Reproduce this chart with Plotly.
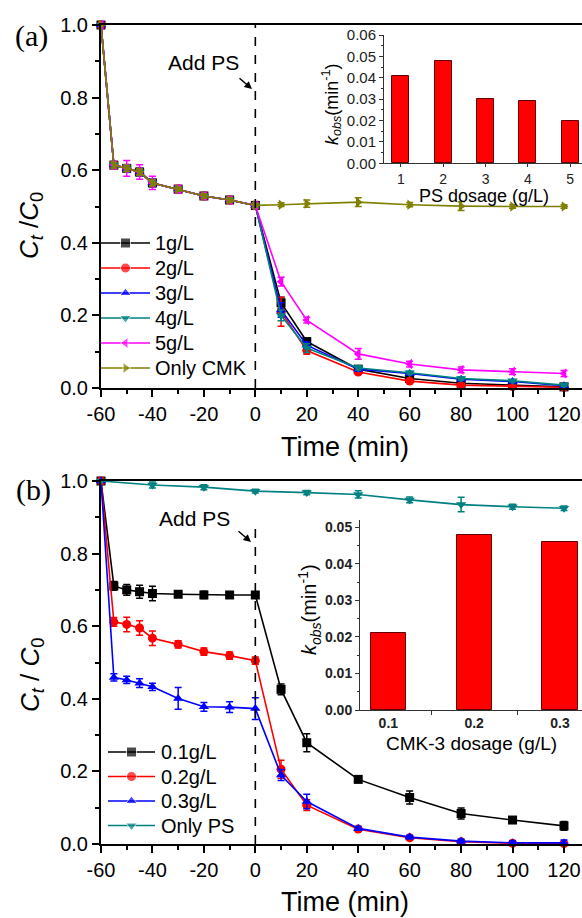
import plotly.graph_objects as go

W, H = 582, 918
FONT = "Liberation Sans"

# ---------------- data: panel (a) ----------------
time_a = [-60, -55, -50, -45, -40, -30, -20, -10, 0, 10, 20, 40, 60, 80, 100, 120]
a_1g = [1.0, 0.614, 0.605, 0.595, 0.565, 0.548, 0.529, 0.518, 0.503, 0.235, 0.128, 0.052, 0.026, 0.013, 0.007, 0.003]
a_2g = [1.0, 0.614, 0.605, 0.595, 0.565, 0.548, 0.529, 0.518, 0.503, 0.210, 0.103, 0.044, 0.019, 0.008, 0.004, 0.002]
a_3g = [1.0, 0.614, 0.605, 0.595, 0.565, 0.548, 0.529, 0.518, 0.503, 0.215, 0.118, 0.052, 0.040, 0.024, 0.018, 0.006]
a_4g = [1.0, 0.614, 0.605, 0.595, 0.565, 0.548, 0.529, 0.518, 0.503, 0.200, 0.110, 0.055, 0.042, 0.026, 0.020, 0.008]
a_5g = [1.0, 0.614, 0.605, 0.595, 0.565, 0.548, 0.529, 0.518, 0.503, 0.293, 0.187, 0.094, 0.066, 0.050, 0.045, 0.040]
a_cmk = [1.0, 0.614, 0.605, 0.595, 0.565, 0.548, 0.529, 0.518, 0.503, 0.505, 0.508, 0.512, 0.505, 0.501, 0.500, 0.500]

ea_1g = [0, 0.005, 0.01, 0.01, 0.01, 0.005, 0.005, 0.005, 0.005, 0.015, 0.008, 0.006, 0.004, 0.003, 0.003, 0.003]
ea_2g = [0, 0.005, 0.01, 0.01, 0.01, 0.005, 0.005, 0.005, 0.005, 0.040, 0.010, 0.006, 0.004, 0.003, 0.003, 0.003]
ea_3g = [0, 0.005, 0.01, 0.01, 0.01, 0.005, 0.005, 0.005, 0.005, 0.020, 0.008, 0.006, 0.004, 0.004, 0.003, 0.003]
ea_4g = [0, 0.005, 0.01, 0.01, 0.01, 0.005, 0.005, 0.005, 0.005, 0.015, 0.012, 0.006, 0.004, 0.004, 0.003, 0.003]
ea_5g = [0, 0.010, 0.022, 0.020, 0.018, 0.010, 0.008, 0.008, 0.008, 0.012, 0.008, 0.015, 0.008, 0.008, 0.008, 0.008]
ea_cmk = [0, 0.008, 0.008, 0.008, 0.008, 0.006, 0.006, 0.006, 0.006, 0.005, 0.010, 0.012, 0.006, 0.012, 0.005, 0.005]

ps_dosage = ["1", "2", "3", "4", "5"]
k_ps = [0.041, 0.048, 0.030, 0.029, 0.020]

# ---------------- data: panel (b) ----------------
time_b = [-60, -55, -50, -45, -40, -30, -20, -10, 0, 10, 20, 40, 60, 80, 100, 120]
b_01 = [1.0, 0.711, 0.700, 0.695, 0.690, 0.688, 0.686, 0.686, 0.686, 0.426, 0.279, 0.178, 0.128, 0.084, 0.066, 0.050]
b_02 = [1.0, 0.612, 0.605, 0.595, 0.567, 0.550, 0.530, 0.519, 0.505, 0.206, 0.107, 0.041, 0.017, 0.006, 0.002, 0.001]
b_03 = [1.0, 0.459, 0.452, 0.443, 0.433, 0.401, 0.378, 0.377, 0.373, 0.190, 0.117, 0.043, 0.019, 0.008, 0.003, 0.003]
eb_01 = [0, 0.012, 0.015, 0.018, 0.020, 0.005, 0.010, 0.005, 0.005, 0.015, 0.025, 0.008, 0.018, 0.015, 0.008, 0.012]
eb_02 = [0, 0.012, 0.020, 0.020, 0.020, 0.010, 0.010, 0.010, 0.010, 0.025, 0.015, 0.005, 0.005, 0.003, 0.003, 0.003]
eb_03 = [0, 0.010, 0.010, 0.012, 0.010, 0.030, 0.012, 0.015, 0.030, 0.015, 0.020, 0.005, 0.005, 0.005, 0.005, 0.008]

time_ps = [-60, -40, -20, 0, 20, 40, 60, 80, 100, 120]
b_ps = [1.0, 0.989, 0.983, 0.972, 0.968, 0.963, 0.948, 0.935, 0.929, 0.925]
eb_ps = [0, 0.008, 0.007, 0.005, 0.006, 0.010, 0.008, 0.020, 0.007, 0.006]

cmk_dosage = ["0.1", "0.2", "0.3"]
k_cmk = [0.021, 0.048, 0.046]

time_ticks = [-60, -40, -20, 0, 20, 40, 60, 80, 100, 120]
time_ticktext = ["-60", "-40", "-20", "0", "20", "40", "60", "80", "100", "120"]


def px_x(p):
    return p / W


def px_y(p):
    return 1 - p / H


fig = go.Figure()


def add_series(x, y, e, name, color, symbol, xa, ya):
    fig.add_trace(go.Scatter(
        x=x, y=y, name=name, mode="lines+markers",
        line=dict(color=color, width=1.6),
        marker=dict(symbol=symbol, size=9, color=color),
        error_y=dict(type="data", array=e, color=color, thickness=1.5, width=3.5),
        xaxis=xa, yaxis=ya, showlegend=False, cliponaxis=False,
    ))


series_a = [
    (a_1g, ea_1g, "1g/L", "#000000", "square"),
    (a_2g, ea_2g, "2g/L", "#FF0000", "circle"),
    (a_3g, ea_3g, "3g/L", "#0000FF", "triangle-up"),
    (a_4g, ea_4g, "4g/L", "#008080", "triangle-down"),
    (a_5g, ea_5g, "5g/L", "#FF00FF", "triangle-left"),
    (a_cmk, ea_cmk, "Only CMK", "#808000", "triangle-right"),
]
for y, e, n, c, s in series_a:
    add_series(time_a, y, e, n, c, s, "x", "y")

series_b = [
    (time_b, b_01, eb_01, "0.1g/L", "#000000", "square"),
    (time_b, b_02, eb_02, "0.2g/L", "#FF0000", "circle"),
    (time_b, b_03, eb_03, "0.3g/L", "#0000FF", "triangle-up"),
    (time_ps, b_ps, eb_ps, "Only PS", "#008080", "triangle-down"),
]
for x, y, e, n, c, s in series_b:
    add_series(x, y, e, n, c, s, "x3", "y3")

fig.add_trace(go.Bar(x=ps_dosage, y=k_ps, width=0.4, marker=dict(color="#FF0000", line=dict(color="#600000", width=1)),
                     xaxis="x2", yaxis="y2", showlegend=False))
fig.add_trace(go.Bar(x=cmk_dosage, y=k_cmk, width=0.41, marker=dict(color="#FF0000", line=dict(color="#600000", width=1)),
                     xaxis="x4", yaxis="y4", showlegend=False))

# ---- legends drawn on an invisible pixel-scaled overlay axis ----
ann = []


def legend_block(entries, x0, x1, xt, y0, dy):
    for i, (n, c, s) in enumerate(entries):
        yc = y0 + i * dy
        fig.add_trace(go.Scatter(
            x=[x0, (x0 + x1) / 2, x1], y=[yc, yc, yc], mode="lines+markers",
            line=dict(color=c, width=1.6), marker=dict(symbol=s, size=[0, 10, 0], color=c),
            xaxis="x5", yaxis="y5", showlegend=False, hoverinfo="skip", cliponaxis=False))
        ann.append(dict(x=xt, y=yc, xref="x5", yref="y5", text=n, showarrow=False, xanchor="left",
                        yanchor="middle", font=dict(family=FONT, size=20, color="black")))


legend_block([(t[2], t[3], t[4]) for t in series_a], 101, 150, 153, 243, 25.0)
legend_block([(t[3], t[4], t[5]) for t in series_b], 108, 155, 159, 752, 24.5)

main_x = dict(range=[-60, 127], tickvals=time_ticks, ticktext=time_ticktext, showline=True, linewidth=2,
              linecolor="black", mirror=True, automargin=False,
              ticks="outside", ticklen=7, tickwidth=1.5, tickcolor="black", showgrid=False, zeroline=False,
              tickfont=dict(family=FONT, size=20, color="black"),
              minor=dict(dtick=10, tick0=0, ticks="outside", ticklen=4, tickwidth=1.5, tickcolor="black", showgrid=False))
main_y = dict(range=[0, 1], dtick=0.2, tickformat=".1f", showline=True, linewidth=2, linecolor="black", automargin=False,
              ticks="outside", ticklen=7, tickwidth=1.5, tickcolor="black", showgrid=False, zeroline=False,
              tickfont=dict(family=FONT, size=20, color="black"),
              minor=dict(dtick=0.1, ticks="outside", ticklen=4, tickwidth=1.5, tickcolor="black", showgrid=False))

ins_common = dict(showline=True, linewidth=1, linecolor="#333333", showgrid=False, zeroline=False, automargin=False,
                  ticks="outside", tickcolor="#333333", tickwidth=1)

fig.update_layout(
    width=W, height=H, margin=dict(l=0, r=0, t=0, b=0, autoexpand=False),
    paper_bgcolor="white", plot_bgcolor="rgba(0,0,0,0)", bargap=0, showlegend=False,
    font=dict(family=FONT, color="black"),
    xaxis=dict(domain=[px_x(101), 1], anchor="y", **main_x),
    yaxis=dict(domain=[px_y(388), px_y(25)], anchor="x", **main_y),
    xaxis3=dict(domain=[px_x(101), 1], anchor="y3", **main_x),
    yaxis3=dict(domain=[px_y(844), px_y(481)], anchor="x3", **main_y),
    xaxis2=dict(domain=[px_x(384), 1], anchor="y2", type="category", range=[-0.4, 4.28], ticklen=3,
                tickfont=dict(family=FONT, size=14, color="#222222"), **ins_common),
    yaxis2=dict(domain=[px_y(163.3), px_y(35)], anchor="x2", range=[0, 0.06], dtick=0.01, tickformat=".2f", ticklen=4,
                tickfont=dict(family=FONT, size=15, color="#222222"),
                minor=dict(dtick=0.005, ticks="outside", ticklen=2, tickcolor="#333333"), **ins_common),
    xaxis4=dict(domain=[px_x(360), 1], anchor="y4", type="category", range=[-0.33, 2.256], ticklen=4,
                tickson="boundaries",
                tickfont=dict(family=FONT, size=14, color="#222222", weight="bold"), **ins_common),
    yaxis4=dict(domain=[px_y(710), px_y(520)], anchor="x4", range=[0, 0.052], dtick=0.01, tickformat=".2f", ticklen=4,
                tickfont=dict(family=FONT, size=14, color="#222222", weight="bold"),
                minor=dict(dtick=0.005, ticks="outside", ticklen=2, tickcolor="#333333"), **ins_common),
    xaxis5=dict(domain=[0, 1], range=[0, W], visible=False, fixedrange=True, automargin=False),
    yaxis5=dict(domain=[0, 1], range=[H, 0], visible=False, fixedrange=True, automargin=False, anchor="x5"),
)

# dashed "Add PS" lines
fig.add_shape(type="line", xref="x", yref="y", x0=0, x1=0, y0=0, y1=1,
              line=dict(color="black", width=1.6, dash="dash"))
fig.add_shape(type="line", xref="x3", yref="y3", x0=0, x1=0, y0=0, y1=0.884,
              line=dict(color="black", width=1.6, dash="dash"))


def text(x, y, s, size, angle=0, family=FONT, color="black"):
    ann.append(dict(x=px_x(x), y=px_y(y), xref="paper", yref="paper", text=s, showarrow=False,
                    font=dict(family=family, size=size, color=color), textangle=angle,
                    xanchor="center", yanchor="middle"))


def arrow(x0, y0, x1, y1):
    ann.append(dict(x=px_x(x1), y=px_y(y1), xref="paper", yref="paper", text="",
                    showarrow=True, ax=x0 - x1, ay=y0 - y1, axref="pixel", ayref="pixel",
                    arrowhead=2, arrowsize=1, arrowwidth=1.5, arrowcolor="black"))


text(31, 36, "(a)", 30, family="Liberation Serif")
text(33, 490, "(b)", 30, family="Liberation Serif")
text(203, 62, "Add PS", 21)
text(195, 518, "Add PS", 21)
arrow(238, 77, 252, 89)
arrow(237, 530, 251, 542)
text(31, 226, "<i>C</i><sub><i>t</i></sub> /<i>C</i><sub>0</sub>", 26, angle=-90)
text(31, 675, "<i>C</i><sub><i>t</i></sub> / <i>C</i><sub>0</sub>", 26, angle=-90)
text(345, 447, "Time (min)", 27)
text(345, 902, "Time (min)", 27)
text(484, 196, "PS dosage (g/L)", 18)
text(471, 743, "CMK-3 dosage (g/L)", 19)
text(332, 104, "<i>k</i><sub><i>obs</i></sub>(min<sup>-1</sup>)", 18, angle=-90)
text(309, 610, "<i>k</i><sub><i>obs</i></sub>(min<sup>-1</sup>)", 20, angle=-90)
fig.update_layout(annotations=ann)

fig.write_html("out.html")
